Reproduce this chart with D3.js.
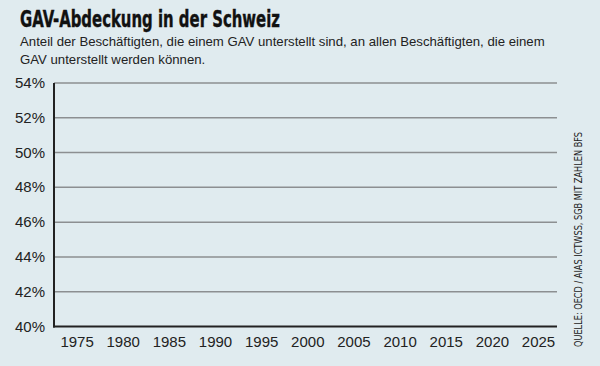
<!DOCTYPE html>
<html><head><meta charset="utf-8">
<script src="https://cdn.jsdelivr.net/npm/d3@7"></script>
<style>html,body{margin:0;padding:0;background:#e0ebef;}svg{display:block;}</style>
</head><body><div id="chart"></div>
<script>
const yearTicks = [1975,1980,1985,1990,1995,2000,2005,2010,2015,2020,2025];
const pctTicks = [40,42,44,46,48,50,52,54];
const years = [];
const coverage = [];

const W=600,H=366;
const svg=d3.select("#chart").append("svg").attr("width",W).attr("height",H);
svg.append("rect").attr("width",W).attr("height",H).attr("fill","#e0ebef");

const x=d3.scaleLinear().domain([1972.5,2027]).range([54,557]);
const y=d3.scaleLinear().domain([40,54]).range([326.5,83]);

svg.append("text").attr("x",20).attr("y",27).text("GAV-Abdeckung in der Schweiz")
  .attr("font-family","'Liberation Sans Narrow','DejaVu Sans Condensed',Roboto,sans-serif")
  .attr("font-weight","bold").attr("font-size",23).attr("fill","#111")
  .attr("stroke","#111").attr("stroke-width",0.4)
  .attr("textLength",260).attr("lengthAdjust","spacingAndGlyphs");
const sub=["Anteil der Beschäftigten, die einem GAV unterstellt sind, an allen Beschäftigten, die einem","GAV unterstellt werden können."];
sub.forEach((s,i)=>svg.append("text").attr("x",20).attr("y",46+i*18).text(s)
  .attr("font-family","'Liberation Sans',Arial,sans-serif").attr("font-size",13.2).attr("fill","#222"));

// gridlines
const grid=svg.append("g");
grid.selectAll("line").data(pctTicks.filter(d=>d>40)).join("line")
  .attr("x1",54).attr("x2",557).attr("y1",d=>y(d)).attr("y2",d=>y(d))
  .attr("stroke","#8c8f91").attr("stroke-width",1.5);

// y labels
svg.append("g").selectAll("text").data(pctTicks).join("text")
  .attr("x",45).attr("y",d=>y(d)+5).attr("text-anchor","end").text(d=>d+"%")
  .attr("font-family","'Liberation Sans',Arial,sans-serif").attr("font-size",15).attr("fill","#222");

// x labels
svg.append("g").selectAll("text").data(yearTicks).join("text")
  .attr("x",d=>x(d)).attr("y",347).attr("text-anchor","middle").text(d=>d)
  .attr("font-family","'Liberation Sans',Arial,sans-serif").attr("font-size",15).attr("fill","#222");

// axes lines
svg.append("line").attr("x1",54).attr("x2",54).attr("y1",y(54)).attr("y2",y(40)+1)
  .attr("stroke","#222").attr("stroke-width",2);
svg.append("line").attr("x1",53).attr("x2",557).attr("y1",y(40)).attr("y2",y(40))
  .attr("stroke","#222").attr("stroke-width",2);

// data line (no values shown in reference)
svg.append("path").datum(years.map((d,i)=>[d,coverage[i]]))
  .attr("d",d3.line().x(d=>x(d[0])).y(d=>y(d[1]))).attr("fill","none").attr("stroke","#c00");

// source
svg.append("text").attr("transform","translate(582,347) rotate(-90)").text("QUELLE: OECD / AIAS  ICTWSS, SGB MIT ZAHLEN BFS")
  .attr("font-family","'Liberation Sans Narrow','DejaVu Sans Condensed',Roboto,sans-serif").attr("font-size",10.5).attr("fill","#222")
  .attr("textLength",215).attr("lengthAdjust","spacingAndGlyphs");
</script></body></html>
